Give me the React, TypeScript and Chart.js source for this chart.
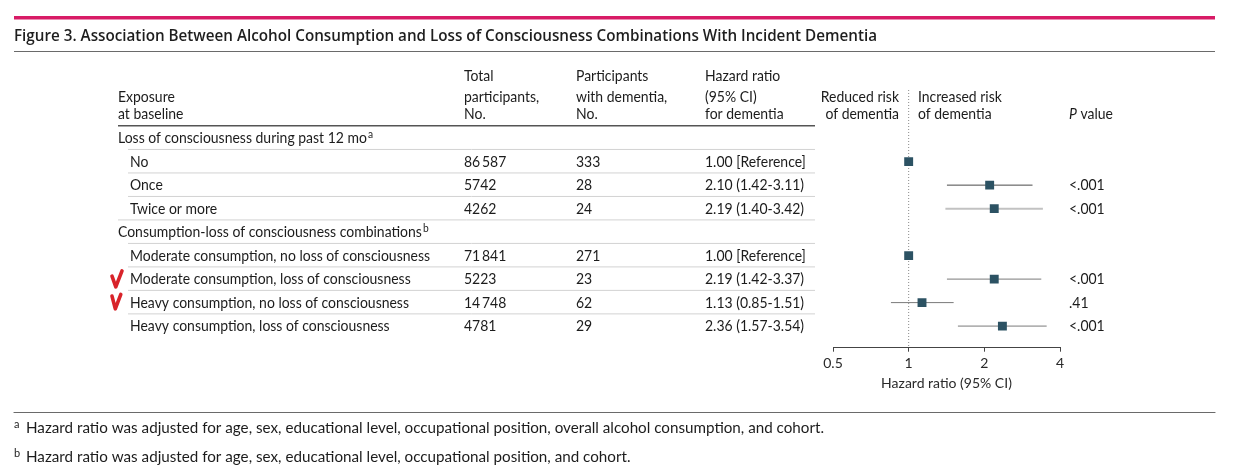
import React, { useEffect, useRef } from 'react';
import { Chart, registerables } from 'chart.js';

Chart.register(...registerables);

// ---------- data ----------
const figureTitle =
  'Figure 3. Association Between Alcohol Consumption and Loss of Consciousness Combinations With Incident Dementia';
const rowLabels = [
  'Loss of consciousness during past 12 mo',
  'No',
  'Once',
  'Twice or more',
  'Consumption-loss of consciousness combinations',
  'Moderate consumption, no loss of consciousness',
  'Moderate consumption, loss of consciousness',
  'Heavy consumption, no loss of consciousness',
  'Heavy consumption, loss of consciousness',
];
const rowIsGroup = [true, false, false, false, true, false, false, false, false];
const rowFootnote = ['a', '', '', '', 'b', '', '', '', ''];
const totalParticipants = ['', '86\u2009587', '5742', '4262', '', '71\u2009841', '5223', '14\u2009748', '4781'];
const withDementia = ['', '333', '28', '24', '', '271', '23', '62', '29'];
const hazardRatio: (number | null)[] = [null, 1.0, 2.1, 2.19, null, 1.0, 2.19, 1.13, 2.36];
const ciLower: (number | null)[] = [null, null, 1.42, 1.4, null, null, 1.42, 0.85, 1.57];
const ciUpper: (number | null)[] = [null, null, 3.11, 3.42, null, null, 3.37, 1.51, 3.54];
const pValues = ['', '', '<.001', '<.001', '', '', '<.001', '.41', '<.001'];
const checkedRows = [6, 7];
const xTicks = [0.5, 1, 2, 4];
const headerExposure = ['Exposure', 'at baseline'];
const headerTotal = ['Total', 'participants,', 'No.'];
const headerDementia = ['Participants', 'with dementia,', 'No.'];
const headerHR = ['Hazard ratio', '(95% CI)', 'for dementia'];
const headerReduced = ['Reduced risk', 'of dementia'];
const headerIncreased = ['Increased risk', 'of dementia'];
const footnotes = [
  ['a', 'Hazard ratio was adjusted for age, sex, educational level, occupational position, overall alcohol consumption, and cohort.'],
  ['b', 'Hazard ratio was adjusted for age, sex, educational level, occupational position, and cohort.'],
];

// ---------- style ----------
const FAMILY = 'Lato, "Noto Sans", sans-serif';
const BODY = `15px ${FAMILY}`;
const TEXT = '#1c1c1c';
const SQUARE = '#2c5263';
const ciColor = ['', '', '#4a4a4a', '#c2c2c2', '', '', '#7a7a7a', '#7a7a7a', '#7a7a7a'];
const ciWidth = [0, 0, 1, 2, 0, 0, 1, 1, 1];
const Y_MIN = -2.05;
const Y_MAX = 8.92;

const hrText = hazardRatio.map((hr, i) => {
  if (hr == null) return '';
  const lo = ciLower[i];
  const hi = ciUpper[i];
  if (lo == null || hi == null) return `${hr.toFixed(2)} [Reference]`;
  return `${hr.toFixed(2)} (${lo.toFixed(2)}-${hi.toFixed(2)})`;
});

function drawText(
  ctx: CanvasRenderingContext2D,
  s: string,
  x: number,
  y: number,
  font: string,
  k: number,
  align: CanvasTextAlign = 'left',
  color = TEXT
) {
  ctx.save();
  ctx.font = font;
  ctx.fillStyle = color;
  ctx.textAlign = align;
  ctx.textBaseline = 'alphabetic';
  ctx.translate(x, y);
  ctx.scale(k, 1);
  ctx.fillText(s, 0, 0);
  ctx.restore();
  ctx.font = font;
  return ctx.measureText(s).width * k;
}

function hline(ctx: CanvasRenderingContext2D, x1: number, x2: number, y: number, color: string, w: number) {
  ctx.save();
  ctx.strokeStyle = color;
  ctx.lineWidth = w;
  ctx.beginPath();
  ctx.moveTo(x1, y);
  ctx.lineTo(x2, y);
  ctx.stroke();
  ctx.restore();
}

const tablePlugin = {
  id: 'forestTable',
  afterDraw(chart: any) {
    const ctx: CanvasRenderingContext2D = chart.ctx;
    const ys = chart.scales.y;
    const rowY = (i: number) => ys.getPixelForValue(i);

    ctx.save();
    ctx.font = BODY;
    const k = 300 / ctx.measureText(rowLabels[5]).width;
    const TITLE = `600 17px "Open Sans", ${FAMILY}`;
    ctx.font = TITLE;
    const kT = 863 / ctx.measureText(figureTitle).width;
    ctx.font = BODY;
    const kF = 798 / ctx.measureText(footnotes[0][1]).width;

    // top rule + title
    ctx.fillStyle = '#d81b66';
    ctx.fillRect(14, 16, 1201, 3.5);
    drawText(ctx, figureTitle, 14, 41, TITLE, kT, 'left', '#1e1e1e');
    hline(ctx, 14, 1215, 51.5, '#6a6a6a', 1.2);

    // headers
    const hb = [81, 101.5, 119];
    headerExposure.forEach((t, j) => drawText(ctx, t, 118, hb[j + 1], BODY, k));
    headerTotal.forEach((t, j) => drawText(ctx, t, 464, hb[j], BODY, k));
    headerDementia.forEach((t, j) => drawText(ctx, t, 576, hb[j], BODY, k));
    headerHR.forEach((t, j) => drawText(ctx, t, 705, hb[j], BODY, k));
    headerReduced.forEach((t, j) => drawText(ctx, t, 899, hb[j + 1], BODY, k, 'right'));
    headerIncreased.forEach((t, j) => drawText(ctx, t, 918, hb[j + 1], BODY, k));
    const wp = drawText(ctx, 'P', 1069, hb[2], `italic 15px ${FAMILY}`, k);
    drawText(ctx, ' value', 1069 + wp, hb[2], BODY, k);
    hline(ctx, 118, 815, rowY(0) - 12.5, '#555555', 1.5);

    // rows
    rowLabels.forEach((label, i) => {
      const y = rowY(i);
      const base = y + 5;
      const x = rowIsGroup[i] ? 118 : 130;
      const w = drawText(ctx, label, x, base, BODY, k);
      if (rowFootnote[i]) drawText(ctx, rowFootnote[i], x + w + 1, base - 5, `11px ${FAMILY}`, k);
      if (totalParticipants[i]) drawText(ctx, totalParticipants[i], 464, base, BODY, k);
      if (withDementia[i]) drawText(ctx, withDementia[i], 576, base, BODY, k);
      if (hrText[i]) drawText(ctx, hrText[i], 705, base, BODY, k);
      if (pValues[i]) drawText(ctx, pValues[i], 1069, base, BODY, k);
      if (i < rowLabels.length - 1) {
        const endOfGroup = rowIsGroup[i + 1];
        hline(ctx, endOfGroup ? 118 : 128, 815, y + 11.3, '#d2d2d2', 1);
      }
    });

    // hand-drawn check marks
    ctx.strokeStyle = '#d8232a';
    ctx.lineWidth = 3.6;
    ctx.lineCap = 'round';
    ctx.lineJoin = 'round';
    checkedRows.forEach((r, n) => {
      const y = rowY(r);
      ctx.beginPath();
      if (n === 0) {
        ctx.moveTo(112, y - 3);
        ctx.lineTo(115.8, y + 7.8);
        ctx.lineTo(122, y - 8.2);
      } else {
        ctx.moveTo(112, y - 6.5);
        ctx.lineTo(115.3, y + 6.2);
        ctx.lineTo(120.8, y - 8.2);
      }
      ctx.stroke();
    });

    // footnotes
    hline(ctx, 14, 1215, 412.5, '#6a6a6a', 1.2);
    footnotes.forEach(([mark, text], j) => {
      const base = 433 + j * 28.5;
      drawText(ctx, mark, 14, base - 5, `11px ${FAMILY}`, 1);
      drawText(ctx, text, 26, base, BODY, kF);
    });
    ctx.restore();
  },
};

export default function App() {
  const ref = useRef<HTMLCanvasElement | null>(null);

  useEffect(() => {
    if (!ref.current) return;
    const rows = hazardRatio.map((_, i) => i);
    const squareData = rows
      .filter((i) => hazardRatio[i] != null)
      .map((i) => ({ x: hazardRatio[i] as number, y: i }));
    const ciSets = rows
      .filter((i) => ciLower[i] != null && ciUpper[i] != null)
      .map((i) => ({
        data: [
          { x: ciLower[i] as number, y: i },
          { x: ciUpper[i] as number, y: i },
        ],
        showLine: true,
        borderColor: ciColor[i],
        borderWidth: ciWidth[i],
        pointRadius: 0,
      }));

    const chart = new Chart(ref.current, {
      type: 'scatter',
      data: {
        datasets: [
          {
            data: squareData,
            pointStyle: 'rect',
            pointRadius: 6.3,
            backgroundColor: SQUARE,
            borderWidth: 0,
          },
          ...ciSets,
          {
            data: [
              { x: 1, y: Y_MIN },
              { x: 1, y: Y_MAX },
            ],
            showLine: true,
            borderColor: '#8a8a8a',
            borderWidth: 1,
            borderDash: [1, 2],
            pointRadius: 0,
          },
        ] as any,
      },
      options: {
        animation: false,
        responsive: false,
        events: [],
        layout: { padding: { left: 833, right: 182, top: 90, bottom: 82.7 } },
        plugins: { legend: { display: false }, tooltip: { enabled: false } },
        scales: {
          x: {
            type: 'logarithmic',
            min: 0.5,
            max: 4,
            afterBuildTicks: (scale: any) => {
              scale.ticks = xTicks.map((v) => ({ value: v }));
            },
            ticks: {
              color: '#2a2a2a',
              font: { family: FAMILY, size: 14 },
              padding: 3.5,
              maxRotation: 0,
              autoSkip: false,
              callback: (v: any) => String(v),
            },
            grid: { drawOnChartArea: false, drawTicks: true, tickLength: 4, color: '#444444' },
            border: { display: true, color: '#444444', width: 1 },
            title: {
              display: true,
              text: 'Hazard ratio (95% CI)',
              color: '#2a2a2a',
              font: { family: FAMILY, size: 14 },
              padding: { top: 0, bottom: 0 },
            },
          },
          y: {
            type: 'linear',
            min: Y_MIN,
            max: Y_MAX,
            reverse: true,
            display: false,
          },
        },
      } as any,
      plugins: [tablePlugin],
    });
    return () => chart.destroy();
  }, []);

  return (
    <div style={{ position: 'fixed', left: 0, top: 0, width: 1242, height: 475, background: '#ffffff' }}>
      <canvas ref={ref} width={1242} height={475} style={{ display: 'block', width: 1242, height: 475 }} />
    </div>
  );
}
